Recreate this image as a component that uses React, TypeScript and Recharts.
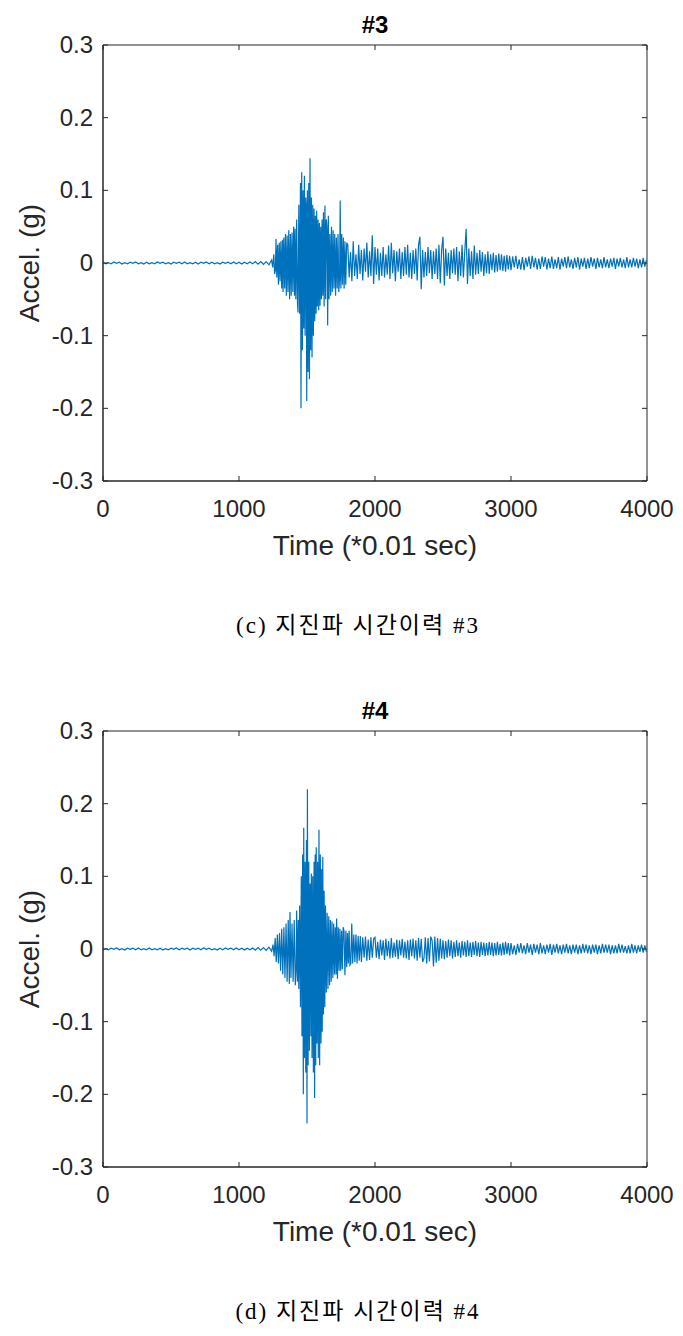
import React from 'react';
import { LineChart, Line, XAxis, YAxis, ReferenceArea } from 'recharts';

const timeTicks = [0, 1000, 2000, 3000, 4000];
const accelTicks = [-0.3, -0.2, -0.1, 0, 0.1, 0.2, 0.3];
const accelTickLabels = ['-0.3', '-0.2', '-0.1', '0', '0.1', '0.2', '0.3'];
const titles = ['#3', '#4'];
const captions = ['(c) 지진파 시간이력 #3', '(d) 지진파 시간이력 #4'];
const xLabel = 'Time (*0.01 sec)';
const yLabel = 'Accel. (g)';

// [time (*0.01 s), acceleration (g)] read from record #3
const record3: [number, number][] = [
  [0, 0.001], [20, -0.001], [40, 0.0005], [60, -0.001], [80, 0.0015], [100, -0.0005], [120, 0.001], [140, -0.0015],
  [160, 0.0005], [180, -0.001], [200, 0.001], [220, -0.0005], [240, 0.0015], [260, -0.001], [280, 0.0005], [300, -0.0015],
  [320, 0.001], [340, -0.001], [360, 0.0005], [380, -0.001], [400, 0.0015], [420, -0.0005], [440, 0.001], [460, -0.001],
  [480, 0.0005], [500, -0.0015], [520, 0.001], [540, -0.0005], [560, 0.001], [580, -0.001], [600, 0.0015], [620, -0.001],
  [640, 0.0005], [660, -0.001], [680, 0.001], [700, -0.0015], [720, 0.001], [740, -0.0005], [760, 0.0015], [780, -0.001],
  [800, 0.001], [820, -0.001], [840, 0.0005], [860, -0.0015], [880, 0.001], [900, -0.0005], [920, 0.001], [940, -0.001],
  [960, 0.0015], [980, -0.001], [1000, 0.001], [1020, -0.0015], [1040, 0.001], [1060, -0.001], [1080, 0.0015], [1100, -0.001],
  [1120, 0.002], [1140, -0.0015], [1160, 0.002], [1180, -0.002], [1200, 0.002], [1220, -0.0025],
  [1240, 0.004], [1248, -0.006], [1256, 0.012], [1262, -0.015], [1268, -0.01], [1272, 0.033], [1278, -0.02], [1284, 0.025],
  [1290, -0.03], [1296, 0.028], [1302, -0.025], [1308, 0.03], [1314, -0.035], [1320, 0.032], [1324, -0.04], [1330, 0.035],
  [1336, -0.035], [1342, 0.04], [1348, -0.045], [1354, 0.038], [1360, -0.04], [1366, 0.045], [1372, -0.05], [1378, 0.04],
  [1384, -0.045], [1390, 0.042], [1396, -0.04], [1402, 0.05], [1408, -0.045], [1412, 0.047], [1418, -0.05], [1424, 0.06],
  [1430, -0.055], [1434, -0.068], [1440, 0.08], [1446, -0.07], [1452, 0.11], [1456, -0.2], [1461, 0.125], [1466, -0.12],
  [1471, 0.1], [1476, -0.09], [1481, 0.12], [1486, -0.1], [1491, 0.09], [1494, 0.08], [1498, -0.19], [1503, 0.1],
  [1508, -0.15], [1513, 0.11], [1518, -0.16], [1522, 0.144], [1527, -0.12], [1532, 0.09], [1537, -0.13], [1542, 0.08],
  [1547, -0.1], [1552, 0.075], [1557, -0.08], [1562, 0.065], [1567, -0.07], [1571, 0.072], [1576, -0.06], [1581, 0.06],
  [1586, -0.065], [1591, 0.055], [1596, -0.059], [1601, 0.05], [1606, -0.05], [1611, 0.06], [1616, -0.045], [1621, 0.07],
  [1626, -0.06], [1632, 0.079], [1637, -0.05], [1642, 0.06], [1647, 0.05], [1652, -0.086], [1657, 0.065], [1662, -0.05],
  [1668, 0.04], [1674, -0.045], [1680, 0.05], [1686, -0.04], [1692, 0.045], [1698, -0.035], [1704, 0.04], [1710, -0.045],
  [1716, 0.035], [1722, -0.035], [1728, 0.04], [1734, -0.04], [1740, -0.02], [1744, 0.086], [1749, -0.035], [1755, 0.04],
  [1761, -0.03], [1767, 0.035], [1773, -0.035], [1779, 0.03], [1785, -0.03], [1792, 0.028],
  [1800, 0.025], [1810, -0.02], [1820, 0.015], [1830, -0.025], [1840, 0.03], [1850, -0.018], [1860, 0.012], [1870, -0.022],
  [1880, 0.025], [1890, -0.015], [1900, 0.018], [1910, -0.024], [1920, 0.02], [1930, -0.012], [1940, 0.028], [1950, -0.02],
  [1960, 0.016], [1970, -0.018], [1980, 0.038], [1990, -0.029], [2000, 0.022], [2010, -0.016], [2020, 0.02], [2030, -0.024],
  [2040, 0.014], [2050, -0.018], [2060, 0.022], [2070, -0.02], [2080, 0.012], [2090, -0.016], [2100, 0.024], [2110, -0.022],
  [2120, 0.028], [2130, -0.014], [2140, 0.018], [2150, -0.025], [2160, 0.016], [2170, -0.012], [2180, 0.02], [2190, -0.022],
  [2200, 0.015], [2210, -0.018], [2220, 0.022], [2230, -0.016], [2240, 0.025], [2250, -0.02], [2260, 0.014], [2270, -0.022],
  [2280, 0.018], [2290, -0.015], [2300, 0.02], [2310, -0.024], [2320, 0.025], [2330, 0.036], [2340, -0.036], [2350, 0.018],
  [2360, -0.02], [2370, 0.015], [2380, -0.018], [2390, 0.022], [2400, -0.014], [2410, 0.018], [2420, -0.022], [2430, 0.016],
  [2440, -0.015], [2450, 0.02], [2460, -0.022], [2470, 0.025], [2480, -0.028], [2490, 0.018], [2500, 0.036], [2510, -0.031],
  [2520, 0.02], [2530, -0.018], [2540, 0.014], [2550, -0.022], [2560, 0.018], [2570, -0.014], [2580, 0.02], [2590, -0.016],
  [2600, 0.022], [2610, -0.025], [2620, 0.016], [2630, -0.018], [2640, 0.025], [2650, -0.02], [2660, 0.015], [2670, 0.047],
  [2680, -0.029], [2690, 0.02], [2700, -0.018], [2710, 0.016], [2720, -0.022], [2730, 0.024], [2740, -0.016], [2750, 0.014],
  [2760, -0.015], [2770, 0.018], [2780, -0.012], [2790, 0.015], [2800, -0.018], [2810, 0.012], [2820, -0.014], [2830, 0.016],
  [2840, -0.015], [2850, 0.012], [2860, -0.01], [2870, 0.014], [2880, -0.013], [2890, 0.011], [2900, -0.012], [2910, 0.013],
  [2920, -0.01], [2930, 0.012], [2940, -0.011], [2950, 0.01], [2960, -0.012], [2970, 0.011], [2980, -0.009], [2990, 0.01],
  [3000, -0.01], [3012, 0.009], [3024, -0.006], [3036, 0.01], [3048, -0.008], [3060, 0.005], [3072, -0.009], [3084, 0.008],
  [3096, -0.01], [3108, 0.007], [3120, -0.005], [3132, 0.009], [3144, -0.008], [3156, 0.01], [3168, -0.006], [3180, 0.007],
  [3192, -0.009], [3204, 0.006], [3216, -0.008], [3228, 0.009], [3240, -0.005], [3252, 0.008], [3264, -0.009], [3276, 0.006],
  [3288, -0.007], [3300, 0.009], [3312, -0.008], [3324, 0.005], [3336, -0.007], [3348, 0.008], [3360, -0.009], [3372, 0.006],
  [3384, -0.005], [3396, 0.008], [3408, -0.007], [3420, 0.009], [3432, -0.006], [3444, 0.005], [3456, -0.008], [3468, 0.007],
  [3480, -0.006], [3492, 0.008], [3504, -0.009], [3516, 0.006], [3528, -0.005], [3540, 0.007], [3552, -0.008], [3564, 0.006],
  [3576, -0.007], [3588, 0.008], [3600, -0.005], [3612, 0.006], [3624, -0.008], [3636, 0.007], [3648, -0.006], [3660, 0.005],
  [3672, -0.007], [3684, 0.008], [3696, -0.006], [3708, 0.005], [3720, -0.007], [3732, 0.006], [3744, -0.005], [3756, 0.007],
  [3768, -0.008], [3780, 0.006], [3792, -0.005], [3804, 0.007], [3816, -0.006], [3828, 0.005], [3840, -0.007], [3852, 0.008],
  [3864, -0.006], [3876, 0.005], [3888, -0.006], [3900, 0.007], [3912, -0.005], [3924, 0.006], [3936, -0.007], [3948, 0.005],
  [3960, -0.006], [3972, 0.007], [3984, -0.005], [3996, 0.004],
];

// [time (*0.01 s), acceleration (g)] read from record #4
const record4: [number, number][] = [
  [0, -0.001], [20, 0.0005], [40, -0.001], [60, 0.001], [80, -0.0005], [100, 0.0015], [120, -0.001], [140, 0.0005],
  [160, -0.0015], [180, 0.001], [200, -0.0005], [220, 0.001], [240, -0.001], [260, 0.0015], [280, -0.001], [300, 0.0005],
  [320, -0.001], [340, 0.0015], [360, -0.001], [380, 0.0005], [400, -0.001], [420, 0.001], [440, -0.0015], [460, 0.0005],
  [480, -0.001], [500, 0.001], [520, -0.0005], [540, 0.0015], [560, -0.001], [580, 0.001], [600, -0.0005], [620, 0.001],
  [640, -0.0015], [660, 0.001], [680, -0.0005], [700, 0.001], [720, -0.001], [740, 0.0015], [760, -0.0005], [780, 0.001],
  [800, -0.001], [820, 0.0005], [840, -0.0015], [860, 0.001], [880, -0.001], [900, 0.0015], [920, -0.0005], [940, 0.001],
  [960, -0.001], [980, 0.0015], [1000, -0.001], [1020, 0.001], [1040, -0.0015], [1060, 0.001], [1080, -0.001], [1100, 0.0015],
  [1120, -0.0015], [1140, 0.002], [1160, -0.0015], [1180, 0.002], [1200, -0.002], [1220, 0.0025], [1240, -0.003],
  [1250, 0.006], [1258, -0.01], [1266, 0.015], [1274, -0.018], [1282, 0.02], [1290, -0.02], [1298, 0.022], [1306, -0.03],
  [1314, 0.028], [1322, -0.035], [1330, 0.03], [1338, -0.04], [1346, 0.035], [1354, -0.045], [1362, 0.04], [1370, -0.048],
  [1375, 0.051], [1382, -0.04], [1390, 0.035], [1398, -0.045], [1406, 0.04], [1414, -0.05], [1420, -0.03], [1424, 0.053],
  [1430, -0.045], [1436, 0.04], [1440, -0.055], [1446, 0.06], [1452, -0.08], [1458, 0.1], [1463, -0.12], [1468, 0.13],
  [1473, -0.2], [1476, 0.167], [1481, -0.15], [1486, 0.12], [1491, -0.17], [1496, 0.15], [1500, -0.24], [1503, 0.22],
  [1508, -0.16], [1513, 0.12], [1518, -0.14], [1523, 0.09], [1529, -0.12], [1532, 0.104], [1537, -0.15], [1542, 0.1],
  [1547, -0.17], [1552, 0.12], [1556, -0.205], [1560, 0.13], [1564, -0.16], [1568, 0.14], [1573, -0.13], [1578, 0.12],
  [1583, -0.15], [1588, 0.164], [1593, -0.16], [1598, 0.13], [1603, -0.13], [1608, 0.11], [1612, -0.114], [1616, 0.127],
  [1621, -0.09], [1626, 0.08], [1631, -0.08], [1636, 0.06], [1642, -0.06], [1648, 0.05], [1654, -0.055], [1660, 0.045],
  [1666, -0.05], [1672, 0.04], [1678, -0.045], [1684, 0.038], [1690, -0.04], [1696, 0.035], [1702, -0.035], [1708, 0.03],
  [1714, -0.035], [1718, 0.042], [1724, -0.041], [1730, 0.03], [1736, -0.03], [1742, 0.028], [1748, -0.03], [1754, 0.025],
  [1760, -0.028], [1766, 0.03], [1772, 0.025], [1779, -0.036], [1786, 0.025], [1792, -0.025], [1798, 0.022], [1804, -0.02],
  [1810, 0.025], [1816, -0.022], [1822, -0.02], [1829, 0.035], [1836, -0.02], [1844, 0.02], [1852, -0.018], [1860, 0.02],
  [1868, -0.02], [1876, 0.018], [1884, -0.016], [1892, 0.018], [1900, -0.018], [1910, 0.016], [1920, -0.012], [1930, 0.017],
  [1940, -0.016], [1950, 0.013], [1960, -0.015], [1970, 0.016], [1980, -0.012], [1990, 0.014],
  [2000, 0.016], [2010, -0.012], [2020, 0.01], [2030, -0.014], [2040, 0.013], [2050, -0.009], [2060, 0.012], [2070, -0.015],
  [2080, 0.014], [2090, -0.01], [2100, 0.011], [2110, -0.013], [2120, 0.015], [2130, -0.012], [2140, 0.009], [2150, -0.011],
  [2160, 0.013], [2170, -0.014], [2180, 0.012], [2190, -0.009], [2200, 0.014], [2210, -0.012], [2220, 0.01], [2230, -0.013],
  [2240, 0.012], [2250, -0.015], [2260, 0.013], [2270, -0.01], [2280, 0.014], [2290, -0.013], [2300, 0.012], [2310, -0.016],
  [2320, 0.015], [2330, -0.012], [2340, 0.014], [2350, -0.018], [2360, -0.013], [2370, 0.016], [2380, -0.02], [2390, 0.015],
  [2400, -0.017], [2410, 0.017], [2420, 0.012], [2430, -0.024], [2440, 0.017], [2450, -0.019], [2460, 0.015], [2470, -0.016],
  [2480, 0.014], [2490, -0.013], [2500, 0.012], [2510, -0.014], [2520, 0.011], [2530, -0.012], [2540, 0.013], [2550, -0.01],
  [2560, 0.012], [2570, -0.013], [2580, 0.01], [2590, -0.011], [2600, 0.012], [2610, -0.01], [2620, 0.009], [2630, -0.012],
  [2640, 0.011], [2650, -0.009], [2660, 0.01], [2670, -0.011], [2680, 0.012], [2690, -0.01], [2700, 0.009], [2710, -0.011],
  [2720, 0.01], [2730, -0.008], [2740, 0.011], [2750, -0.01], [2760, 0.009], [2770, -0.011], [2780, 0.01], [2790, -0.008],
  [2800, 0.009], [2810, -0.01], [2820, 0.008], [2830, -0.009], [2840, 0.01], [2850, -0.008], [2860, 0.009], [2870, -0.01],
  [2880, 0.008], [2890, -0.009], [2900, 0.01], [2910, -0.008], [2920, 0.007], [2930, -0.009], [2940, 0.009], [2950, -0.008],
  [2960, 0.01], [2970, -0.007], [2980, 0.008], [2990, -0.009],
  [3000, 0.008], [3012, -0.007], [3024, 0.005], [3036, -0.008], [3048, 0.007], [3060, -0.005], [3072, 0.008], [3084, -0.006],
  [3096, 0.005], [3108, -0.007], [3120, 0.008], [3132, -0.005], [3144, 0.006], [3156, -0.008], [3168, 0.007], [3180, -0.005],
  [3192, 0.006], [3204, -0.007], [3216, 0.008], [3228, -0.006], [3240, 0.005], [3252, -0.007], [3264, 0.006], [3276, -0.005],
  [3288, 0.007], [3300, -0.008], [3312, 0.006], [3324, -0.005], [3336, 0.007], [3348, -0.006], [3360, 0.005], [3372, -0.007],
  [3384, 0.006], [3396, -0.005], [3408, 0.007], [3420, -0.006], [3432, 0.005], [3444, -0.007], [3456, 0.006], [3468, -0.005],
  [3480, 0.006], [3492, -0.007], [3504, 0.005], [3516, -0.006], [3528, 0.007], [3540, -0.005], [3552, 0.006], [3564, -0.006],
  [3576, 0.005], [3588, -0.007], [3600, 0.006], [3612, -0.005], [3624, 0.006], [3636, -0.007], [3648, 0.005], [3660, -0.006],
  [3672, 0.007], [3684, -0.005], [3696, 0.006], [3708, -0.005], [3720, 0.006], [3732, -0.007], [3744, 0.005], [3756, -0.006],
  [3768, 0.005], [3780, -0.006], [3792, 0.007], [3804, -0.005], [3816, 0.006], [3828, -0.005], [3840, 0.004], [3852, -0.006],
  [3864, 0.005], [3876, -0.006], [3888, 0.007], [3900, -0.005], [3912, 0.005], [3924, -0.006], [3936, 0.005], [3948, -0.004],
  [3960, 0.006], [3972, -0.005], [3984, 0.005], [3996, -0.004],
];

const records = [record3, record4];

const FONT = "'Liberation Sans', Arial, Helvetica, sans-serif";
const INK = '#262626';
const CHART_W = 683;
const CHART_H = 580;
const MARGIN = { top: 45, right: 36, bottom: 59, left: 0 };
const Y_AXIS_W = 103;
const X_AXIS_H = 40;
const PLOT_W = CHART_W - MARGIN.left - MARGIN.right - Y_AXIS_W;
const PLOT_H = CHART_H - MARGIN.top - MARGIN.bottom - X_AXIS_H;
const TICK_LEN = 5;

const XTick = (props: any) => {
  const { x, y, payload } = props;
  const top = y - PLOT_H;
  return (
    <g>
      <line x1={x} y1={y} x2={x} y2={y - TICK_LEN} stroke={INK} strokeWidth={1} />
      <line x1={x} y1={top} x2={x} y2={top + TICK_LEN} stroke={INK} strokeWidth={1} />
      <text x={x} y={y + 36} textAnchor="middle" fontFamily={FONT} fontSize={24} fill={INK}>
        {String(payload.value)}
      </text>
    </g>
  );
};

const YTick = (props: any) => {
  const { x, y, payload } = props;
  const idx = accelTicks.indexOf(payload.value);
  const label = idx >= 0 ? accelTickLabels[idx] : String(payload.value);
  const right = x + PLOT_W;
  return (
    <g>
      <line x1={x} y1={y} x2={x + TICK_LEN} y2={y} stroke={INK} strokeWidth={1} />
      <line x1={right} y1={y} x2={right - TICK_LEN} y2={y} stroke={INK} strokeWidth={1} />
      <text x={x - 10} y={y + 8} textAnchor="end" fontFamily={FONT} fontSize={24} fill={INK}>
        {label}
      </text>
    </g>
  );
};

const Panel = ({ index, top }: { index: number; top: number }) => {
  const data = records[index].map(([t, a]) => ({ t, a }));
  const plotLeft = MARGIN.left + Y_AXIS_W;
  const plotCx = plotLeft + PLOT_W / 2;
  const plotCy = MARGIN.top + PLOT_H / 2;
  return (
    <div style={{ position: 'absolute', left: 0, top, width: CHART_W, height: 650 }}>
      <LineChart width={CHART_W} height={CHART_H} data={data} margin={MARGIN}>
        <XAxis
          dataKey="t"
          type="number"
          domain={[0, 4000]}
          ticks={timeTicks}
          height={X_AXIS_H}
          tickSize={0}
          tickMargin={0}
          tickLine={false}
          axisLine={{ stroke: INK, strokeWidth: 1 }}
          tick={<XTick />}
          interval={0}
        />
        <YAxis
          type="number"
          domain={[-0.3, 0.3]}
          ticks={accelTicks}
          width={Y_AXIS_W}
          tickSize={0}
          tickMargin={0}
          tickLine={false}
          axisLine={{ stroke: INK, strokeWidth: 1 }}
          tick={<YTick />}
          interval={0}
          allowDataOverflow
        />
        <ReferenceArea x1={0} x2={4000} y1={-0.3} y2={0.3} fill="none" stroke={INK} strokeWidth={1} ifOverflow="visible" />
        <Line
          type="linear"
          dataKey="a"
          stroke="#0072BD"
          strokeWidth={1.2}
          dot={false}
          activeDot={false}
          isAnimationActive={false}
        />
      </LineChart>
      <svg
        width={CHART_W}
        height={650}
        style={{ position: 'absolute', left: 0, top: 0, pointerEvents: 'none' }}
      >
        <text x={plotCx} y={33} textAnchor="middle" fontFamily={FONT} fontWeight="bold" fontSize={24} fill="#000">
          {titles[index]}
        </text>
        <text x={plotCx} y={555} textAnchor="middle" fontFamily={FONT} fontSize={28} fill={INK}>
          {xLabel}
        </text>
        <text
          transform={`translate(39, ${plotCy}) rotate(-90)`}
          textAnchor="middle"
          fontFamily={FONT}
          fontSize={28}
          fill={INK}
        >
          {yLabel}
        </text>
        <text
          x={358}
          y={633}
          textAnchor="middle"
          fontFamily="'Liberation Serif', 'Noto Sans CJK KR', serif"
          fontSize={23}
          letterSpacing={2}
          fill="#000"
        >
          {captions[index]}
        </text>
      </svg>
    </div>
  );
};

export default function App() {
  return (
    <div style={{ position: 'absolute', left: 0, top: 0, width: 683, height: 1336, background: '#fff' }}>
      <Panel index={0} top={0} />
      <Panel index={1} top={686} />
    </div>
  );
}
